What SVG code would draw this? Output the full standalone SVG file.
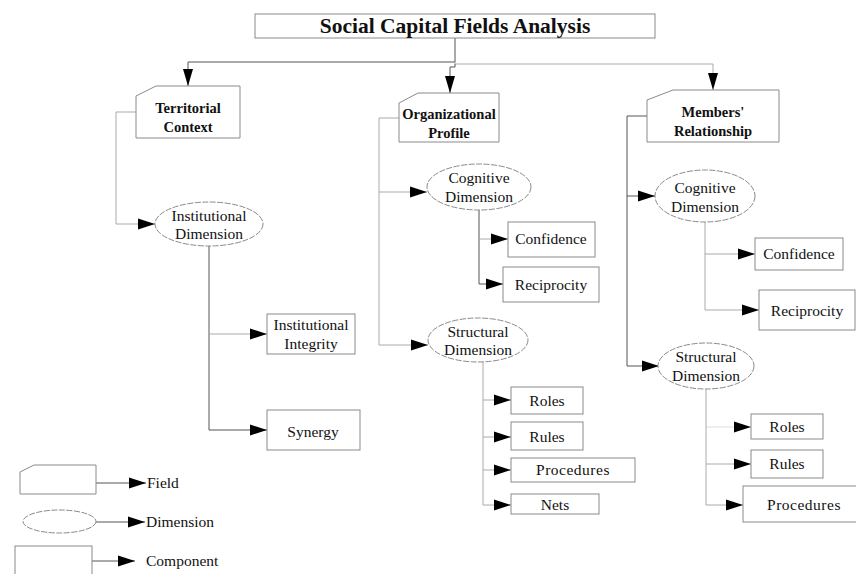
<svg xmlns="http://www.w3.org/2000/svg" width="856" height="574" viewBox="0 0 856 574">
<defs>
<marker id="ah" markerUnits="userSpaceOnUse" markerWidth="18" markerHeight="12" refX="17" refY="6" orient="auto">
<path d="M0,0.5 L17,6 L0,11.5 z" fill="#000"/>
</marker>
<marker id="ahd" markerUnits="userSpaceOnUse" markerWidth="18" markerHeight="12" refX="17" refY="6" orient="auto">
<path d="M0,1 L17,6 L0,11 z" fill="#000"/>
</marker>
</defs>
<style>
.box{fill:#fff;stroke:#8a8a8a;stroke-width:1}
.ell{fill:#fff;stroke:#8a8a8a;stroke-width:1;stroke-dasharray:6 1.5}
.c{fill:none;stroke:#555;stroke-width:1}
.c2{fill:none;stroke:#aaa;stroke-width:1}
text{font-family:"Liberation Serif","Times New Roman",serif;fill:#111}
.t{font-size:15.5px;text-anchor:middle}
.b{font-size:14.5px;font-weight:bold;text-anchor:middle}
.lg{font-size:15.5px}
.title{font-size:21.5px;font-weight:bold;text-anchor:middle}
</style>
<rect width="856" height="574" fill="#fff"/>
<g id="connectors">
<path class="c" d="M455,38 V62 H188 V86" marker-end="url(#ahd)"/>
<path class="c2" d="M455,62 V64 H713 V90" marker-end="url(#ahd)"/>
<path class="c" d="M455,64 V67 H450 V93" marker-end="url(#ahd)"/>
<path class="c2" d="M136,112 H116 V224 H155" marker-end="url(#ah)"/>
<path class="c" d="M209,246 V430 H267" marker-end="url(#ah)"/>
<path class="c2" d="M209,334 H267" marker-end="url(#ah)"/>
<path class="c2" d="M399,118 H379 V345 H428" marker-end="url(#ah)"/>
<path class="c2" d="M379,192 H427" marker-end="url(#ah)"/>
<path class="c" d="M479,210 V284 H503" marker-end="url(#ah)"/>
<path class="c2" d="M479,239 H508" marker-end="url(#ah)"/>
<path class="c2" d="M483,362 V505 H511" marker-end="url(#ah)"/>
<path class="c2" d="M483,400 H511" marker-end="url(#ah)"/>
<path class="c2" d="M483,437 H511" marker-end="url(#ah)"/>
<path class="c2" d="M483,470 H511" marker-end="url(#ah)"/>
<path class="c" d="M647,116 H627 V366 H659" marker-end="url(#ah)"/>
<path class="c" d="M627,196 H655" marker-end="url(#ah)"/>
<path class="c2" d="M705,222 V310 H759" marker-end="url(#ah)"/>
<path class="c2" d="M705,254 H755" marker-end="url(#ah)"/>
<path class="c2" d="M706,389 V505 H743" marker-end="url(#ah)"/>
<path class="c2" d="M706,427 H751" stroke-opacity="0.4" marker-end="url(#ah)"/>
<path class="c2" d="M706,464 H751" marker-end="url(#ah)"/>
<path class="c" d="M96,483 H146" marker-end="url(#ah)"/>
<path class="c" d="M96,522 H145" marker-end="url(#ah)"/>
<path class="c" d="M92,561 H135" marker-end="url(#ah)"/>
</g>
<g id="title">
<rect class="box" x="255" y="14" width="400" height="24"/>
<text class="title" x="455" y="33">Social Capital Fields Analysis</text>
</g>
<g id="territorial">
<path class="box" d="M136,96 L156,86 H240 V138 H136 Z"/>
<text class="b" x="188" y="113">Territorial</text>
<text class="b" x="188" y="132">Context</text>
</g>
<g id="inst-dim">
<ellipse class="ell" cx="209" cy="224" rx="54" ry="22"/>
<text class="t" x="209" y="221">Institutional</text>
<text class="t" x="209" y="239">Dimension</text>
</g>
<g id="inst-integrity">
<rect class="box" x="267" y="314" width="88" height="40"/>
<text class="t" x="311" y="330">Institutional</text>
<text class="t" x="311" y="349">Integrity</text>
</g>
<g id="synergy">
<rect class="box" x="267" y="410" width="93" height="40"/>
<text class="t" x="313" y="437">Synergy</text>
</g>
<g id="org-profile">
<path class="box" d="M399,103 L418,93 H499 V142 H399 Z"/>
<text class="b" x="449" y="119">Organizational</text>
<text class="b" x="449" y="138">Profile</text>
</g>
<g id="org-cognitive">
<ellipse class="ell" cx="479" cy="187" rx="52" ry="23"/>
<text class="t" x="479" y="183">Cognitive</text>
<text class="t" x="479" y="202">Dimension</text>
</g>
<g id="org-confidence">
<rect class="box" x="508" y="222" width="87" height="35"/>
<text class="t" x="551" y="244">Confidence</text>
</g>
<g id="org-reciprocity">
<rect class="box" x="503" y="267" width="96" height="35"/>
<text class="t" x="551" y="290">Reciprocity</text>
</g>
<g id="org-structural">
<ellipse class="ell" cx="478" cy="340" rx="50" ry="22"/>
<text class="t" x="478" y="337">Structural</text>
<text class="t" x="478" y="355">Dimension</text>
</g>
<g id="org-roles">
<rect class="box" x="511" y="387" width="72" height="27"/>
<text class="t" x="547" y="406">Roles</text>
</g>
<g id="org-rules">
<rect class="box" x="511" y="422" width="72" height="28"/>
<text class="t" x="547" y="442">Rules</text>
</g>
<g id="org-procedures">
<rect class="box" x="511" y="458" width="124" height="24"/>
<text class="t" x="573" y="475" letter-spacing="0.5">Procedures</text>
</g>
<g id="org-nets">
<rect class="box" x="511" y="494" width="88" height="20"/>
<text class="t" x="555" y="510">Nets</text>
</g>
<g id="members">
<path class="box" d="M647,100 L673,90 H779 V142 H647 Z"/>
<text class="b" x="713" y="117">Members'</text>
<text class="b" x="713" y="136">Relationship</text>
</g>
<g id="mem-cognitive">
<ellipse class="ell" cx="705" cy="196" rx="50" ry="26"/>
<text class="t" x="705" y="193">Cognitive</text>
<text class="t" x="705" y="212">Dimension</text>
</g>
<g id="mem-confidence">
<rect class="box" x="755" y="238" width="88" height="32"/>
<text class="t" x="799" y="259">Confidence</text>
</g>
<g id="mem-reciprocity">
<rect class="box" x="759" y="290" width="96" height="40"/>
<text class="t" x="807" y="316">Reciprocity</text>
</g>
<g id="mem-structural">
<ellipse class="ell" cx="706" cy="366" rx="48" ry="23"/>
<text class="t" x="706" y="362">Structural</text>
<text class="t" x="706" y="381">Dimension</text>
</g>
<g id="mem-roles">
<rect class="box" x="751" y="414" width="72" height="25"/>
<text class="t" x="787" y="432">Roles</text>
</g>
<g id="mem-rules">
<rect class="box" x="751" y="450" width="72" height="28"/>
<text class="t" x="787" y="469">Rules</text>
</g>
<g id="mem-procedures">
<rect class="box" x="743" y="486" width="116" height="36"/>
<text class="t" x="804" y="510" letter-spacing="0.5">Procedures</text>
</g>
<g id="legend-field">
<path class="box" d="M20,472 L34,465 H96 V494 H20 Z"/>
<text class="lg" x="147" y="488">Field</text>
</g>
<g id="legend-dimension">
<ellipse class="ell" cx="59.5" cy="521.5" rx="36.5" ry="11.5"/>
<text class="lg" x="146" y="527">Dimension</text>
</g>
<g id="legend-component">
<rect class="box" x="15" y="546" width="77" height="32"/>
<text class="lg" x="146" y="566">Component</text>
</g>
</svg>
